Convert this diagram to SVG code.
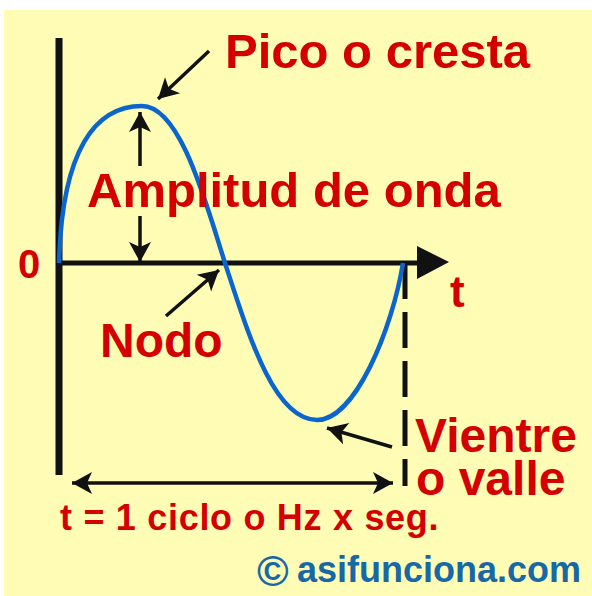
<svg xmlns="http://www.w3.org/2000/svg" width="592" height="596" viewBox="0 0 592 596">
  <style>
    .lbl { font-family: "Liberation Sans", Arial, sans-serif; font-weight: bold; fill: #D40000; }
    .wm { font-family: "Liberation Sans", Arial, sans-serif; font-weight: bold; fill: #1768A6; }
    .arr { stroke: #111; stroke-width: 3.5; fill: none; }
    .axis { stroke: #111; fill: none; }
  </style>
  <defs>
    <marker id="ah" viewBox="-22 -12 24 24" refX="0" refY="0" markerWidth="24" markerHeight="24" markerUnits="userSpaceOnUse" orient="auto-start-reverse">
      <path d="M0,0 L-20,-11 L-15,0 L-20,11 Z" fill="#111"/>
    </marker>
  </defs>
  <rect x="0" y="0" width="592" height="596" fill="#FFFFFF"/>
  <rect x="4" y="10" width="588" height="586" fill="#FFFCB6"/>

  <g id="axes">
    <line class="axis" x1="59" y1="38" x2="59" y2="475" stroke-width="7"/>
    <line class="axis" x1="59" y1="263" x2="422" y2="263" stroke-width="5"/>
    <polygon points="417,246 449,262 417,279" fill="#111"/>
    <line class="axis" x1="405" y1="263" x2="405" y2="486" stroke-width="5" stroke-dasharray="36 13"/>
  </g>

  <g id="wave">
    <path d="M59,263 C62,150 95,106 142,106 C180,106 205,200 225,263 C250,340 275,420 317,420 C355,420 392,330 403,263" fill="none" stroke="#0A66CC" stroke-width="4.5"/>
  </g>

  <g id="connectors">
    <line class="arr" x1="209" y1="51" x2="158" y2="99" marker-end="url(#ah)"/>
    <line class="arr" x1="140" y1="166" x2="140" y2="112" marker-end="url(#ah)"/>
    <line class="arr" x1="140" y1="216" x2="140" y2="262" marker-end="url(#ah)"/>
    <line class="arr" x1="166" y1="316" x2="219" y2="270" marker-end="url(#ah)"/>
    <line class="arr" x1="392" y1="447" x2="327" y2="428" marker-end="url(#ah)"/>
    <line class="arr" x1="72" y1="483" x2="393" y2="483" stroke-width="4" marker-start="url(#ah)" marker-end="url(#ah)"/>
  </g>

  <g id="label-pico"><text class="lbl" x="225" y="68" font-size="49">Pico o cresta</text></g>
  <g id="label-amplitud"><text class="lbl" x="87" y="207" font-size="49">Amplitud de onda</text></g>
  <g id="label-cero"><text class="lbl" x="18" y="278" font-size="40">0</text></g>
  <g id="label-t"><text class="lbl" x="450" y="307" font-size="44">t</text></g>
  <g id="label-nodo"><text class="lbl" x="100" y="357" font-size="48">Nodo</text></g>
  <g id="label-vientre">
    <text class="lbl" x="415" y="452" font-size="48">Vientre</text>
    <text class="lbl" x="416" y="495" font-size="48">o valle</text>
  </g>
  <g id="label-ciclo"><text class="lbl" x="60" y="530" font-size="36" letter-spacing="0.7">t = 1 ciclo o Hz x seg.</text></g>
  <g id="watermark"><text class="wm" x="257" y="586" font-size="43">©<tspan x="297" y="582" font-size="36">asifunciona.com</tspan></text></g>
</svg>
